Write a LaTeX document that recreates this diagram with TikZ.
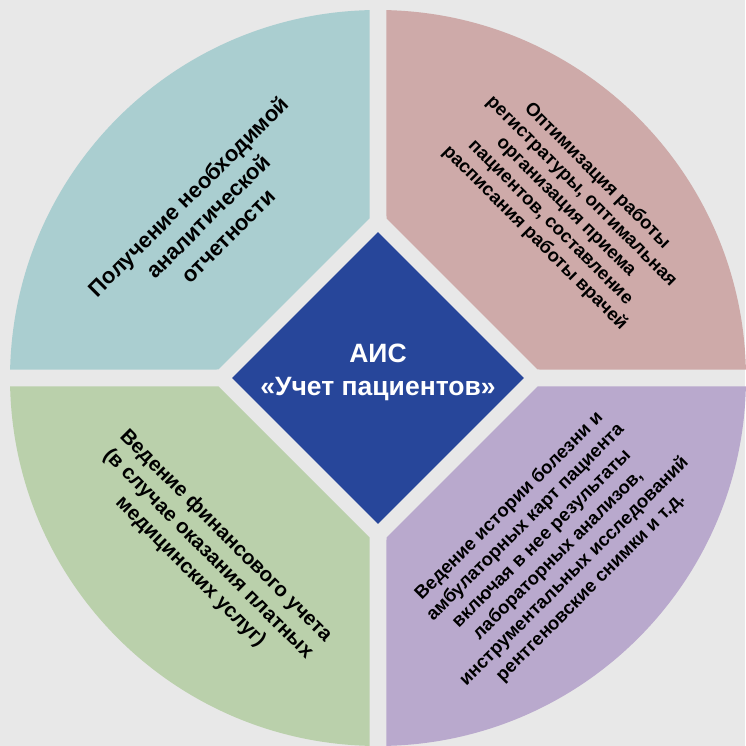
\documentclass[tikz,border=0pt]{standalone}
\usepackage{fontspec}
\setmainfont{Liberation Sans}
\usepackage{tikz}
\usetikzlibrary{shapes.geometric}
\definecolor{bggray}{HTML}{E8E8E8}
\definecolor{tealq}{HTML}{AACED0}
\definecolor{roseq}{HTML}{CEAAA9}
\definecolor{sageq}{HTML}{BAD0AB}
\definecolor{lilacq}{HTML}{B9A9CD}
\definecolor{hubblue}{HTML}{27469A}

\begin{document}
\begin{tikzpicture}[x=1pt,y=1pt,
  sectxt/.style={align=center,text=black,inner sep=0pt},
  hubblk/.style={diamond,aspect=1,fill=hubblue,minimum width=292pt,minimum height=292pt,inner sep=0pt}]
\fill[bggray] (-378,-368) rectangle (367,378);
\useasboundingbox (-378,-368) rectangle (367,378);
% ---------- sectors ----------
\fill[tealq] (-8.5,159.5) -- (91.3:368) arc[start angle=91.3,end angle=178.7,radius=368] -- (-159.5,8.5) -- cycle;
\fill[roseq] (8.5,159.5) -- (88.7:368) arc[start angle=88.7,end angle=1.3,radius=368] -- (159.5,8.5) -- cycle;
\fill[lilacq] (8.5,-159.5) -- (-88.7:368) arc[start angle=-88.7,end angle=-1.3,radius=368] -- (159.5,-8.5) -- cycle;
\fill[sageq] (-8.5,-159.5) -- (-91.3:368) arc[start angle=-91.3,end angle=-178.7,radius=368] -- (-159.5,-8.5) -- cycle;
% ---------- centre ----------
\node[hubblk] (hub) at (0,0) {};
\node[sectxt,text=white,font=\bfseries\fontsize{26.5}{33}\selectfont] (hubtxt) at (0,6) {АИС\\«Учет пациентов»};
% ---------- sector texts ----------
\node[sectxt,rotate=45,font=\bfseries\fontsize{22}{28}\selectfont] (report) at (-170,162) {Получение необходимой\\аналитической\\отчетности};
\node[sectxt,rotate=-45,font=\bfseries\fontsize{18.5}{22}\selectfont] (regist) at (188,171) {Оптимизация работы\\регистратуры, оптимальная\\организация приема\\пациентов, составление\\расписания работы врачей};
\node[sectxt,rotate=45,font=\bfseries\fontsize{18.5}{23}\selectfont] (history) at (172,-169) {Ведение истории болезни и\\амбулаторных карт пациента\\включая в нее результаты\\лабораторных анализов,\\инструментальных исследований\\рентгеновские снимки и т.д.};
\node[sectxt,rotate=-45,font=\bfseries\fontsize{20.5}{25}\selectfont] (finance) at (-170,-176) {Ведение финансового учета\\(в случае оказания платных\\медицинских услуг)};
\end{tikzpicture}
\end{document}
